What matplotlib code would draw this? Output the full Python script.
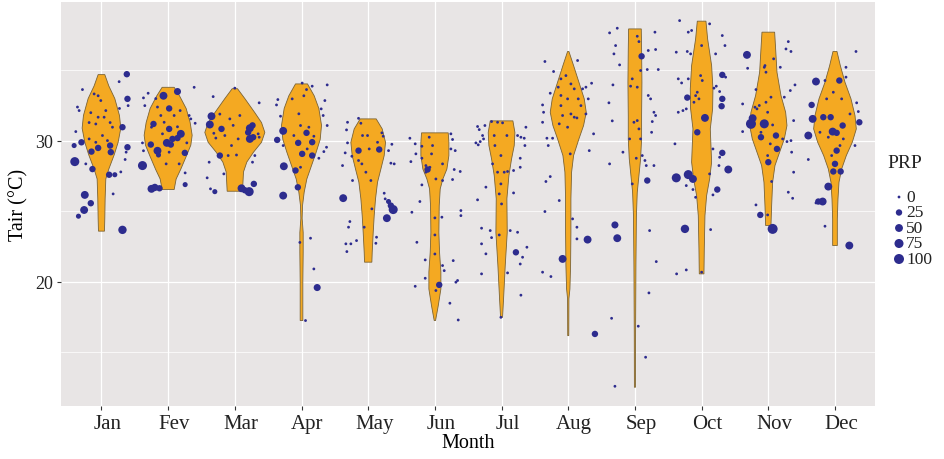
import numpy as np
import matplotlib
matplotlib.use('Agg')
import matplotlib.pyplot as plt
import matplotlib.transforms as mtransforms

months = ['Jan', 'Fev', 'Mar', 'Apr', 'May', 'Jun', 'Jul', 'Aug', 'Sep', 'Oct', 'Nov', 'Dec']

# violin outlines: (Tair, half width in month units)
jan_violin = [(34.7, .05), (33.9, .11), (33.0, .20), (31.8, .27), (30.9, .29), (29.9, .25), (29.0, .19),
              (28.0, .11), (27.3, .065), (25.9, .055), (24.5, .05), (23.6, .045)]
fev_violin = [(33.8, .09), (33.2, .17), (32.3, .27), (31.3, .33), (30.4, .36), (29.7, .34), (29.0, .28),
              (28.0, .19), (27.3, .12), (26.55, .09)]
mar_violin = [(33.7, .04), (33.0, .15), (32.0, .30), (31.3, .40), (30.6, .45), (29.9, .40), (29.2, .28),
              (28.5, .18), (27.8, .13), (26.43, .115)]
apr_violin = [(34.04, .09), (33.2, .19), (32.3, .26), (31.1, .30), (30.1, .28), (29.2, .22), (28.25, .15),
              (27.3, .08), (26.36, .04), (25.4, .015), (24.5, .01), (23.5, .025), (22.1, .025), (20.0, .02),
              (17.26, .02)]
may_violin = [(31.56, .12), (30.85, .21), (29.9, .26), (28.96, .24), (28.0, .19), (27.07, .14), (25.9, .11),
              (24.7, .09), (23.5, .075), (22.1, .06), (21.4, .055)]
jun_violin = [(30.57, .20), (29.9, .21), (28.96, .21), (28.0, .18), (27.3, .12), (26.6, .08), (25.4, .065),
              (23.5, .06), (22.1, .07), (20.7, .09), (19.5, .09), (18.3, .05), (17.26, .01)]
jul_violin = [(31.42, .17), (30.6, .20), (29.67, .19), (28.72, .15), (27.54, .11), (25.9, .08), (23.5, .085),
              (21.16, .055), (18.8, .03), (17.49, .015)]
aug_violin = [(36.34, .01), (35.34, .08), (34.16, .16), (32.98, .24), (32.03, .27), (31.09, .23), (30.14, .16),
              (28.96, .08), (27.78, .05), (25.9, .04), (23.5, .04), (21.16, .035), (19.5, .025), (18.8, .01),
              (16.19, .008)]
sep_violin = [(37.94, .095), (36.5, .10), (34.16, .105), (31.8, .10), (30.14, .10), (28.72, .085), (27.54, .06),
              (26.36, .035), (24.7, .022), (21.16, .015), (16.43, .01), (12.53, .008)]
oct_violin = [(38.49, .065), (37.23, .09), (35.34, .15), (33.69, .17), (32.27, .165), (30.85, .13), (29.67, .14),
              (28.49, .15), (27.3, .12), (26.12, .075), (24.7, .05), (22.34, .04), (20.57, .035)]
nov_violin = [(37.71, .095), (36.52, .11), (34.87, .13), (33.22, .19), (32.03, .26), (31.09, .28), (30.14, .24),
              (29.2, .17), (28.25, .10), (27.07, .065), (25.41, .05), (24.0, .04)]
dec_violin = [(36.34, .03), (35.34, .08), (34.16, .15), (32.98, .24), (31.8, .30), (30.85, .32), (29.91, .26),
              (28.96, .17), (28.01, .10), (27.07, .06), (25.89, .045), (24.47, .035), (22.58, .035)]

# observations: (jitter offset, Tair, PRP)
jan_pts = [(.38, 34.73, 25), (.265, 34.2, 0), (-.285, 33.64, 0), (.39, 32.98, 25), (.40, 32.5, 0),
           (-.36, 32.4, 0), (-.335, 32.15, 0), (.27, 32.3, 0), (.315, 30.97, 25), (-.385, 30.66, 0),
           (-.41, 29.67, 10), (-.30, 29.9, 25), (.39, 29.55, 25), (.37, 29.2, 0), (-.15, 29.24, 25),
           (-.05, 29.5, 25), (.13, 29.67, 25), (.14, 29.2, 25), (-.40, 28.53, 75), (.355, 28.68, 0),
           (-.135, 28.0, 25), (-.235, 28.37, 0), (.115, 27.6, 25), (.2, 27.6, 10), (.29, 27.8, 0),
           (.175, 26.24, 0), (-.25, 26.17, 50), (-.16, 25.58, 25), (-.26, 25.1, 50), (-.345, 24.66, 10),
           (.315, 23.69, 60), (-.11, 33.33, 0), (-.05, 33.2, 0), (-.16, 32.0, 0), (-.01, 32.86, 0),
           (.065, 32.15, 0), (-.05, 31.68, 0), (.04, 31.68, 0), (-.185, 31.3, 0), (-.085, 31.2, 0),
           (.13, 31.3, 0), (.165, 30.97, 0), (.015, 30.38, 0), (.09, 30.02, 0), (-.185, 30.14, 0),
           (-.085, 29.9, 0)]
fev_pts = [(.39, 33.8, 0), (.14, 33.5, 35), (-.07, 33.2, 50), (-.30, 33.38, 0), (-.37, 33.05, 0),
           (-.185, 33.0, 0), (-.35, 32.5, 0), (.015, 32.3, 25), (.18, 32.15, 0), (-.16, 32.4, 0),
           (.315, 31.8, 0), (.34, 31.56, 0), (.405, 31.25, 0), (-.22, 31.2, 25), (-.25, 30.97, 0),
           (.015, 30.85, 25), (.19, 30.5, 50), (.14, 30.2, 25), (.065, 30.14, 25), (-.02, 29.86, 50),
           (.04, 29.74, 25), (-.385, 29.86, 0), (-.26, 29.74, 25), (.28, 29.86, 0), (-.37, 29.3, 0),
           (-.16, 29.3, 50), (-.145, 29.0, 10), (.25, 29.15, 25), (.015, 29.2, 0), (-.385, 28.25, 75),
           (-.03, 28.37, 0), (.165, 28.37, 0), (.255, 27.73, 0), (-.25, 26.6, 50), (-.2, 26.7, 40),
           (-.13, 26.64, 25), (.255, 26.9, 10), (-.11, 31.8, 0), (-.06, 31.32, 0), (.09, 31.8, 0),
           (-.085, 30.5, 0), (.14, 31.0, 0)]
mar_pts = [(-.325, 33.14, 0), (.365, 32.7, 0), (-.35, 31.75, 50), (-.375, 31.16, 50), (-.2, 30.85, 25),
           (-.315, 30.54, 0), (-.285, 30.2, 0), (.225, 30.9, 50), (.265, 31.1, 25), (.2, 30.6, 25),
           (.225, 30.14, 50), (.275, 30.26, 25), (.365, 30.26, 0), (.35, 30.5, 0), (-.225, 28.96, 25),
           (.3, 28.96, 0), (.265, 28.49, 0), (-.385, 28.49, 0), (-.415, 27.38, 0), (-.365, 26.6, 0),
           (-.3, 26.4, 10), (.1, 26.64, 50), (.215, 26.4, 75), (.285, 26.95, 25), (.15, 26.5, 25),
           (0, 33.74, 0), (-.225, 31.9, 0), (-.075, 31.56, 0), (.075, 31.8, 0), (-.025, 31.1, 0),
           (-.15, 30.38, 0), (.05, 30.14, 0), (-.05, 29.67, 0), (-.1, 28.96, 0), (.025, 29.0, 0),
           (-.165, 27.66, 0)]
apr_pts = [(.01, 34.1, 0), (.16, 33.88, 0), (.385, 33.97, 0), (.075, 33.64, 0), (-.355, 32.93, 0),
           (-.375, 32.55, 0), (.35, 32.86, 0), (.295, 32.27, 0), (-.315, 31.75, 0), (.325, 31.8, 0),
           (.385, 31.09, 0), (-.275, 30.71, 50), (-.365, 30.07, 25), (-.275, 29.67, 0), (-.05, 29.86, 25),
           (.075, 30.57, 25), (.16, 29.91, 25), (.185, 30.33, 0), (.01, 29.08, 25), (.16, 28.96, 25),
           (.375, 29.55, 0), (.335, 29.24, 0), (.26, 28.77, 0), (-.265, 28.2, 50), (-.09, 27.9, 25),
           (-.015, 28.13, 0), (-.055, 26.71, 25), (-.275, 26.12, 50), (.135, 23.1, 0), (.185, 20.92, 0),
           (.235, 19.6, 35), (.06, 17.26, 0), (-.14, 32.98, 0), (-.04, 31.92, 0), (.035, 33.2, 0),
           (.11, 30.97, 0), (-.115, 30.38, 0), (.085, 29.43, 0), (-.015, 31.09, 0), (-.025, 22.8, 0)]
may_pts = [(-.145, 31.6, 0), (-.31, 31.32, 0), (-.11, 31.25, 0), (-.325, 30.78, 0), (.205, 30.57, 0),
           (.225, 30.33, 0), (-.31, 29.86, 0), (.355, 29.76, 0), (-.345, 29.15, 0), (-.145, 29.31, 25),
           (.165, 29.39, 25), (.305, 29.31, 0), (-.245, 28.91, 0), (-.385, 28.25, 0), (.34, 28.42, 0),
           (.39, 28.37, 0), (-.235, 27.19, 0), (.24, 26.29, 0), (.255, 25.89, 0), (.305, 25.7, 10),
           (.34, 25.41, 25), (.375, 25.13, 75), (-.375, 25.94, 50), (.28, 24.52, 50), (-.275, 24.28, 0),
           (-.295, 23.88, 0), (.125, 23.17, 0), (.115, 22.74, 0), (-.175, 22.93, 0), (-.335, 22.7, 0),
           (-.26, 22.7, 0), (-.32, 22.15, 0), (-.085, 30.38, 0), (-.01, 30.38, 0), (.015, 29.43, 0),
           (-.145, 28.61, 0), (-.035, 27.78, 0), (.04, 27.19, 0), (-.06, 23.88, 0), (.055, 25.18, 0),
           (-.095, 28.37, 0), (.14, 29.9, 0)]
jun_pts = [(.24, 30.5, 0), (.265, 30.1, 0), (-.375, 30.19, 0), (-.295, 29.79, 0), (-.195, 29.62, 0),
           (.24, 29.43, 0), (.305, 29.31, 0), (-.285, 29.08, 0), (-.36, 28.53, 0), (-.195, 28.77, 0),
           (-.135, 28.25, 0), (-.11, 27.97, 25), (-.075, 28.13, 0), (.29, 27.97, 0), (.38, 27.83, 0),
           (.265, 27.26, 0), (-.195, 26.88, 0), (.115, 27.19, 0), (-.225, 25.7, 0), (-.345, 24.94, 0),
           (.39, 25.06, 0), (.39, 24.7, 0), (.105, 24.59, 0), (-.27, 22.81, 0), (-.145, 21.56, 0),
           (.275, 21.51, 0), (.115, 21.16, 0), (.14, 20.8, 0), (-.145, 20.26, 0), (.065, 19.79, 25),
           (-.295, 19.69, 0), (.315, 19.98, 0), (.34, 20.1, 0), (.225, 18.49, 0), (.35, 17.3, 0),
           (-.085, 30.26, 0), (-.035, 29.67, 0), (-.05, 29.08, 0), (.115, 28.37, 0), (.015, 27.3, 0),
           (0, 24.54, 0), (0, 23.33, 0), (0, 21.98, 0), (.015, 19.39, 0), (-.135, 27.78, 0)]
jul_pts = [(-.36, 31.02, 0), (-.335, 30.8, 0), (-.25, 31.09, 0), (-.285, 30.38, 0), (-.385, 29.86, 0),
           (-.35, 29.72, 0), (-.32, 29.95, 0), (-.27, 30.14, 0), (.24, 30.38, 0), (.29, 30.26, 0),
           (.34, 30.19, 0), (.365, 30.97, 0), (.35, 29.67, 0), (.28, 28.77, 0), (.18, 27.9, 0),
           (.28, 28.13, 0), (-.235, 26.72, 0), (-.36, 25.82, 0), (.18, 26.31, 0), (-.3, 23.81, 0),
           (-.17, 23.64, 0), (-.15, 23.14, 0), (-.3, 22.7, 0), (-.235, 21.99, 0), (.13, 23.64, 0),
           (.24, 23.52, 0), (.38, 22.46, 0), (.215, 22.1, 25), (.315, 21.75, 0), (.28, 21.27, 0),
           (-.3, 20.57, 0), (.09, 20.64, 0), (.29, 19.06, 0), (-.01, 17.49, 0), (-.15, 31.37, 0),
           (-.06, 31.32, 0), (.015, 31.28, 0), (.08, 30.38, 0), (-.11, 30.38, 0), (-.1, 29.67, 0),
           (-.01, 28.96, 0), (-.135, 28.37, 0), (.04, 27.78, 0), (-.01, 26.95, 0), (-.035, 26.24, 0),
           (0, 25.53, 0), (-.035, 23.33, 0), (.09, 27.83, 0), (-.06, 27.78, 0)]
aug_pts = [(-.35, 35.63, 0), (.14, 35.7, 0), (-.22, 34.92, 0), (-.27, 33.38, 0), (-.385, 32.55, 0),
           (-.37, 32.03, 0), (-.385, 31.32, 0), (-.32, 30.19, 0), (-.3, 29.67, 0), (-.235, 30.19, 0),
           (.215, 33.69, 0), (.265, 33.81, 0), (.35, 34.09, 0), (.3, 32.98, 0), (.265, 31.91, 0),
           (.38, 30.5, 0), (.315, 29.31, 0), (-.335, 27.12, 0), (-.27, 27.47, 0), (-.135, 25.77, 0),
           (-.35, 24.99, 0), (.065, 24.47, 0), (.13, 23.88, 0), (.13, 23.05, 0), (.29, 23.0, 50),
           (-.085, 21.63, 50), (-.385, 20.69, 0), (-.26, 20.38, 0), (.4, 16.31, 25), (-.11, 34.4, 0),
           (-.035, 34.63, 0), (.04, 34.04, 0), (-.15, 33.81, 0), (.09, 33.69, 0), (-.11, 33.22, 0),
           (-.01, 32.98, 0), (.15, 32.98, 0), (-.085, 31.8, 0), (.04, 31.91, 0), (.09, 31.68, 0),
           (.13, 31.63, 0), (-.135, 31.21, 0), (-.01, 30.97, 0), (.03, 29.08, 0), (-.11, 32.5, 0),
           (.19, 32.5, 0)]
sep_pts = [(-.38, 37.66, 0), (-.265, 37.99, 0), (.3, 37.71, 0), (-.29, 36.76, 0), (-.315, 36.17, 0),
           (.1, 36.0, 25), (-.23, 35.39, 0), (.2, 36.41, 0), (.31, 36.48, 0), (.35, 35.06, 0),
           (.185, 35.06, 0), (-.33, 33.97, 0), (-.39, 32.7, 0), (-.34, 31.42, 0), (.2, 33.22, 0),
           (.235, 32.98, 0), (.285, 32.03, 0), (.31, 31.8, 0), (.26, 31.37, 0), (.25, 30.61, 0),
           (-.18, 29.2, 0), (-.38, 28.37, 0), (.15, 28.61, 0), (.17, 28.25, 0), (.285, 28.25, 0),
           (.185, 27.19, 25), (-.3, 24.04, 35), (-.265, 23.1, 50), (.22, 23.64, 0), (.32, 21.44, 0),
           (.21, 19.22, 0), (-.35, 17.42, 0), (.05, 16.86, 0), (.16, 14.66, 0), (-.3, 12.6, 0),
           (-.04, 34.4, 0), (-.065, 33.88, 0), (.035, 33.81, 0), (.085, 34.99, 0), (.035, 37.42, 0),
           (.06, 37.04, 0), (-.015, 31.32, 0), (.035, 31.44, 0), (-.08, 30.14, 0), (.085, 30.14, 0),
           (.02, 28.77, 0), (-.04, 26.95, 0), (.06, 30.85, 0), (.11, 28.96, 0)]
oct_pts = [(-.33, 38.53, 0), (.12, 38.3, 0), (-.2, 37.71, 0), (-.15, 37.83, 0), (.31, 37.47, 0),
           (-.38, 36.29, 0), (-.215, 36.34, 0), (-.165, 36.17, 0), (.35, 36.76, 0), (.21, 36.17, 0),
           (.31, 34.68, 25), (-.35, 34.4, 0), (-.3, 34.11, 0), (-.2, 34.4, 0), (.36, 34.52, 0),
           (.185, 33.74, 0), (.22, 33.88, 0), (.27, 33.5, 0), (-.215, 33.07, 25), (.31, 32.98, 25),
           (.3, 32.46, 25), (-.35, 32.03, 0), (-.28, 32.15, 0), (-.23, 32.27, 0), (.05, 31.63, 50),
           (-.065, 30.61, 25), (-.4, 29.79, 0), (.17, 29.43, 0), (.31, 29.15, 25), (.27, 28.84, 0),
           (.26, 28.25, 0), (.4, 27.97, 50), (-.38, 27.38, 75), (-.2, 27.61, 75), (-.13, 27.3, 50),
           (.12, 27.66, 0), (-.23, 26.83, 0), (-.13, 26.55, 0), (.235, 26.55, 25), (.17, 26.17, 0),
           (-.25, 23.76, 60), (.135, 23.71, 0), (-.375, 20.57, 0), (-.23, 20.85, 0), (0, 36.76, 0),
           (-.015, 34.63, 0), (-.065, 33.45, 0), (-.115, 32.74, 0), (.01, 34.28, 0), (-.04, 32.98, 0),
           (-.09, 33.21, 0), (0, 20.69, 0), (-.09, 26.0, 0)]
nov_pts = [(-.32, 36.1, 50), (.3, 37.04, 0), (.265, 36.52, 0), (.34, 36.34, 0), (-.31, 35.15, 0),
           (-.05, 35.34, 0), (.18, 35.22, 0), (.4, 33.97, 0), (.33, 33.57, 0), (-.185, 33.64, 0),
           (.24, 33.1, 0), (-.385, 32.62, 0), (-.2, 32.39, 0), (-.17, 32.27, 0), (-.26, 31.21, 100),
           (-.235, 31.61, 50), (-.06, 31.21, 75), (.38, 31.44, 0), (-.385, 30.66, 0), (.215, 30.14, 0),
           (.28, 29.95, 0), (.34, 30.02, 0), (-.11, 30.26, 25), (.115, 30.38, 25), (.13, 29.43, 25),
           (.35, 29.2, 0), (0, 28.49, 25), (.38, 27.78, 0), (.05, 27.12, 0), (.3, 26.36, 0),
           (.365, 25.93, 0), (-.185, 25.46, 0), (-.12, 24.75, 25), (.065, 23.76, 100), (-.01, 24.75, 0),
           (-.06, 35.22, 0), (-.035, 34.87, 0), (.08, 35.82, 0), (-.135, 32.51, 0), (-.01, 32.03, 0),
           (.065, 31.13, 0), (-.11, 30.61, 0), (.03, 29.79, 0), (-.01, 28.96, 0), (-.035, 32.74, 0),
           (.04, 33.1, 0)]
dec_pts = [(.315, 36.34, 0), (.165, 35.22, 0), (-.285, 34.21, 50), (.065, 34.28, 25), (.165, 34.52, 0),
           (-.15, 34.28, 0), (-.35, 32.55, 25), (.325, 32.7, 0), (.35, 32.08, 0), (.365, 31.32, 25),
           (-.335, 31.56, 50), (-.175, 31.68, 25), (-.4, 30.38, 50), (-.035, 30.66, 50), (.025, 30.57, 25),
           (.115, 31.09, 25), (-.065, 31.68, 25), (.3, 29.67, 0), (-.4, 28.68, 0), (.025, 29.31, 25),
           (0, 28.37, 25), (-.025, 27.83, 25), (.085, 27.83, 25), (-.1, 26.76, 50), (-.185, 25.7, 50),
           (-.25, 25.7, 25), (-.285, 25.6, 0), (-.15, 23.95, 0), (.215, 22.58, 50), (-.125, 32.98, 0),
           (-.025, 33.45, 0), (.1, 32.98, 0), (.225, 31.91, 0), (-.225, 30.61, 0), (-.1, 30.26, 0),
           (.125, 30.14, 0), (.075, 29.67, 0), (-.05, 28.96, 0)]

violins = [jan_violin, fev_violin, mar_violin, apr_violin, may_violin, jun_violin,
           jul_violin, aug_violin, sep_violin, oct_violin, nov_violin, dec_violin]
points = [jan_pts, fev_pts, mar_pts, apr_pts, may_pts, jun_pts,
          jul_pts, aug_pts, sep_pts, oct_pts, nov_pts, dec_pts]
legend_prp = [0, 25, 50, 75, 100]


def prpSize(prp):
    # marker diameter in points, area-scaled like ggplot's size scale
    d_px = 2.8 + 7.2 * np.sqrt(np.asarray(prp, dtype=float) / 100)
    return d_px * 72 / 100


plt.rcParams['font.family'] = ['Liberation Serif', 'DejaVu Serif']

fig = plt.figure(figsize=(9.44, 4.6), dpi=100)
ax = fig.add_axes([0.0651, 0.1152, 0.8618, 0.8783])
ax.set_facecolor('#E8E5E5')

orange = '#F4A922'
navy = '#2D2C8E'

for i, (vio, pts) in enumerate(zip(violins, points)):
    pos = i + 1
    t = np.array([v[0] for v in vio])
    hw = np.array([v[1] for v in vio])
    xs = np.r_[pos + hw, (pos - hw)[::-1]]
    ys = np.r_[t, t[::-1]]
    ax.fill(xs, ys, facecolor=orange, edgecolor='#7A6335', linewidth=0.6, zorder=2)

    arr = np.array(pts)
    ax.scatter(pos + arr[:, 0], arr[:, 1], s=prpSize(arr[:, 2]) ** 2, color=navy,
               edgecolors='none', zorder=3)

# axes, grid and ticks like ggplot's grey theme
ax.set_xlim(0.4, 12.6)
ax.set_ylim(11.2, 39.85)
ax.set_xticks(range(1, 13))
ax.set_xticklabels(months)
ax.set_yticks([20, 30])
ax.set_yticks([15, 25, 35], minor=True)
ax.grid(which='major', color='white', linewidth=0.9, zorder=0)
ax.grid(which='minor', axis='y', color='white', linewidth=0.5, zorder=0)
ax.set_axisbelow(True)
for s in ax.spines.values():
    s.set_visible(False)
ax.tick_params(which='major', length=3, width=0.8, color='#333333', labelcolor='#222222', pad=3)
ax.tick_params(axis='x', labelsize=15)
ax.tick_params(axis='y', labelsize=13)
ax.tick_params(which='minor', length=0)

# month names sit a little right of their ticks in the original
shift = mtransforms.ScaledTranslation(0.06, 0, fig.dpi_scale_trans)
for lab in ax.get_xticklabels():
    lab.set_transform(lab.get_transform() + shift)

ax.set_xlabel('Month', fontsize=14.5, labelpad=0)
ax.set_ylabel('Tair (°C)', fontsize=14.5, labelpad=5)

# PRP size legend drawn in a pixel-coordinate overlay
lax = fig.add_axes([0, 0, 1, 1], facecolor='none')
lax.set_xlim(0, 944)
lax.set_ylim(460, 0)
lax.axis('off')
lax.text(887, 164, 'PRP', fontsize=14, ha='left', va='center', color='#222222')
key_y = 198 + 15.5 * np.arange(len(legend_prp))
lax.scatter(np.full(len(legend_prp), 899), key_y, s=prpSize(legend_prp) ** 2, color=navy,
            edgecolors='none')
for p, yk in zip(legend_prp, key_y):
    lax.text(906, yk, str(p), fontsize=12.5, ha='left', va='center', color='#222222')

fig.savefig('out.png', dpi=100)
